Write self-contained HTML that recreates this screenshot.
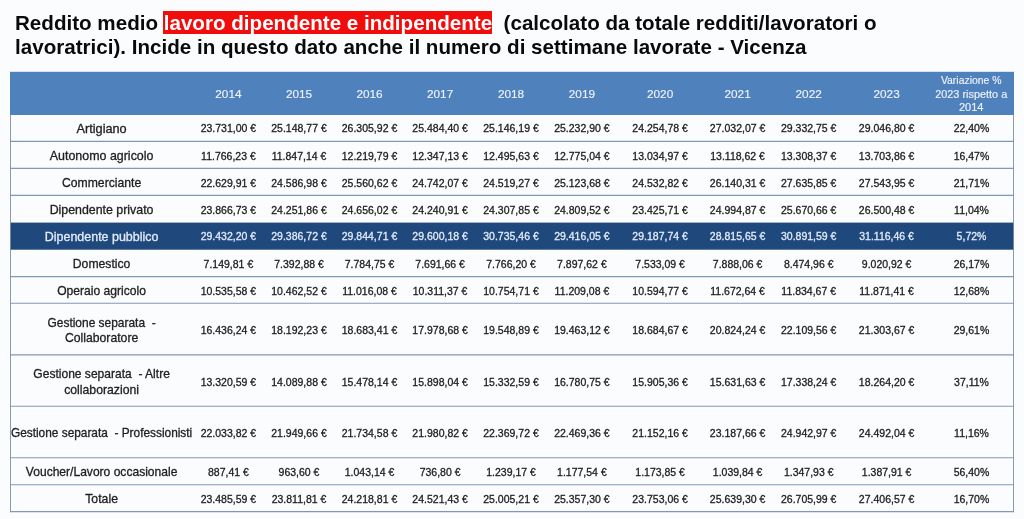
<!DOCTYPE html>
<html lang="it"><head><meta charset="utf-8"><title>Reddito medio - Vicenza</title>
<style>
html,body{margin:0;padding:0}
body{width:1024px;height:519px;background:#fafcfe;position:relative;overflow:hidden;font-family:"Liberation Sans",sans-serif}
#title{position:absolute;left:15px;top:10.5px;width:1000px;font-weight:bold;font-size:20.6px;line-height:24px;color:#0a0a0a;white-space:nowrap}
#title .hl{background:#f20d0d;color:#fff;padding:0 0 0 0.8px;margin-left:-0.8px}
svg{position:absolute;left:0;top:0}
svg text{font-family:"Liberation Sans",sans-serif;text-anchor:middle}
.v{font-size:10.1px;fill:#1c1c1c;stroke:#1c1c1c;stroke-width:0.28px}
.l{font-size:12.2px;fill:#1e1e1e;stroke:#1e1e1e;stroke-width:0.3px}
.y{font-size:11.8px;fill:#eef3fa;stroke:#eef3fa;stroke-width:0.15px}
.h{font-size:10.2px;fill:#eef3fa;stroke:#eef3fa;stroke-width:0.15px}
.w{fill:#e3ecf8;stroke:#e3ecf8}
</style></head>
<body>
<div id="title">Reddito medio <span class="hl">lavoro dipendente e indipendente</span>&nbsp; (calcolato da totale redditi/lavoratori o<br>lavoratrici). Incide in questo dato anche il numero di settimane lavorate - Vicenza</div>
<svg width="1024" height="519" viewBox="0 0 1024 519">
<rect x="10.00" y="71.80" width="1004.00" height="43.20" fill="#4f81bd"/>
<rect x="10.00" y="222.60" width="1004.00" height="27.10" fill="#1f497d"/>
<line x1="10.00" y1="141.40" x2="1014.00" y2="141.40" stroke="#7f97b8" stroke-width="1.1"/>
<line x1="10.00" y1="168.35" x2="1014.00" y2="168.35" stroke="#7f97b8" stroke-width="1.1"/>
<line x1="10.00" y1="195.40" x2="1014.00" y2="195.40" stroke="#7f97b8" stroke-width="1.1"/>
<line x1="10.00" y1="276.60" x2="1014.00" y2="276.60" stroke="#7f97b8" stroke-width="1.1"/>
<line x1="10.00" y1="303.30" x2="1014.00" y2="303.30" stroke="#7f97b8" stroke-width="1.1"/>
<line x1="10.00" y1="354.90" x2="1014.00" y2="354.90" stroke="#7f97b8" stroke-width="1.1"/>
<line x1="10.00" y1="406.30" x2="1014.00" y2="406.30" stroke="#7f97b8" stroke-width="1.1"/>
<line x1="10.00" y1="457.75" x2="1014.00" y2="457.75" stroke="#7f97b8" stroke-width="1.1"/>
<line x1="10.00" y1="484.80" x2="1014.00" y2="484.80" stroke="#7f97b8" stroke-width="1.1"/>
<line x1="10.00" y1="511.60" x2="1014.00" y2="511.60" stroke="#7f97b8" stroke-width="1.1"/>
<line x1="10.50" y1="115.00" x2="10.50" y2="512.10" stroke="#7f8fa6" stroke-width="0.9"/>
<line x1="1013.50" y1="115.00" x2="1013.50" y2="512.10" stroke="#7f8fa6" stroke-width="0.9"/>
<text class="y" x="228.40" y="97.90">2014</text>
<text class="y" x="299.00" y="97.90">2015</text>
<text class="y" x="369.50" y="97.90">2016</text>
<text class="y" x="440.10" y="97.90">2017</text>
<text class="y" x="511.00" y="97.90">2018</text>
<text class="y" x="581.90" y="97.90">2019</text>
<text class="y" x="660.10" y="97.90">2020</text>
<text class="y" x="737.60" y="97.90">2021</text>
<text class="y" x="808.70" y="97.90">2022</text>
<text class="y" x="886.60" y="97.90">2023</text>
<text class="h" x="971.20" y="84.00" textLength="60.6" lengthAdjust="spacingAndGlyphs">Variazione %</text>
<text class="h" x="971.20" y="97.55" textLength="72.0" lengthAdjust="spacingAndGlyphs">2023 rispetto a</text>
<text class="h" x="971.20" y="111.10" textLength="24.5" lengthAdjust="spacingAndGlyphs">2014</text>
<text class="l" x="101.60" y="132.90" textLength="50.2" lengthAdjust="spacingAndGlyphs">Artigiano</text>
<text class="v" transform="translate(228.40 132.20) scale(1.040 1)">23.731,00 €</text>
<text class="v" transform="translate(299.00 132.20) scale(1.040 1)">25.148,77 €</text>
<text class="v" transform="translate(369.50 132.20) scale(1.040 1)">26.305,92 €</text>
<text class="v" transform="translate(440.10 132.20) scale(1.040 1)">25.484,40 €</text>
<text class="v" transform="translate(511.00 132.20) scale(1.040 1)">25.146,19 €</text>
<text class="v" transform="translate(581.90 132.20) scale(1.040 1)">25.232,90 €</text>
<text class="v" transform="translate(660.10 132.20) scale(1.040 1)">24.254,78 €</text>
<text class="v" transform="translate(737.60 132.20) scale(1.040 1)">27.032,07 €</text>
<text class="v" transform="translate(808.70 132.20) scale(1.040 1)">29.332,75 €</text>
<text class="v" transform="translate(886.60 132.20) scale(1.040 1)">29.046,80 €</text>
<text class="v" transform="translate(971.50 132.20) scale(1.040 1)">22,40%</text>
<text class="l" x="101.60" y="159.57" textLength="103.7" lengthAdjust="spacingAndGlyphs">Autonomo agricolo</text>
<text class="v" transform="translate(228.40 160.18) scale(1.040 1)">11.766,23 €</text>
<text class="v" transform="translate(299.00 160.18) scale(1.040 1)">11.847,14 €</text>
<text class="v" transform="translate(369.50 160.18) scale(1.040 1)">12.219,79 €</text>
<text class="v" transform="translate(440.10 160.18) scale(1.040 1)">12.347,13 €</text>
<text class="v" transform="translate(511.00 160.18) scale(1.040 1)">12.495,63 €</text>
<text class="v" transform="translate(581.90 160.18) scale(1.040 1)">12.775,04 €</text>
<text class="v" transform="translate(660.10 160.18) scale(1.040 1)">13.034,97 €</text>
<text class="v" transform="translate(737.60 160.18) scale(1.040 1)">13.118,62 €</text>
<text class="v" transform="translate(808.70 160.18) scale(1.040 1)">13.308,37 €</text>
<text class="v" transform="translate(886.60 160.18) scale(1.040 1)">13.703,86 €</text>
<text class="v" transform="translate(971.50 160.18) scale(1.040 1)">16,47%</text>
<text class="l" x="101.60" y="186.57" textLength="79.3" lengthAdjust="spacingAndGlyphs">Commerciante</text>
<text class="v" transform="translate(228.40 187.07) scale(1.040 1)">22.629,91 €</text>
<text class="v" transform="translate(299.00 187.07) scale(1.040 1)">24.586,98 €</text>
<text class="v" transform="translate(369.50 187.07) scale(1.040 1)">25.560,62 €</text>
<text class="v" transform="translate(440.10 187.07) scale(1.040 1)">24.742,07 €</text>
<text class="v" transform="translate(511.00 187.07) scale(1.040 1)">24.519,27 €</text>
<text class="v" transform="translate(581.90 187.07) scale(1.040 1)">25.123,68 €</text>
<text class="v" transform="translate(660.10 187.07) scale(1.040 1)">24.532,82 €</text>
<text class="v" transform="translate(737.60 187.07) scale(1.040 1)">26.140,31 €</text>
<text class="v" transform="translate(808.70 187.07) scale(1.040 1)">27.635,85 €</text>
<text class="v" transform="translate(886.60 187.07) scale(1.040 1)">27.543,95 €</text>
<text class="v" transform="translate(971.50 187.07) scale(1.040 1)">21,71%</text>
<text class="l" x="101.60" y="213.70" textLength="103.8" lengthAdjust="spacingAndGlyphs">Dipendente privato</text>
<text class="v" transform="translate(228.40 214.30) scale(1.040 1)">23.866,73 €</text>
<text class="v" transform="translate(299.00 214.30) scale(1.040 1)">24.251,86 €</text>
<text class="v" transform="translate(369.50 214.30) scale(1.040 1)">24.656,02 €</text>
<text class="v" transform="translate(440.10 214.30) scale(1.040 1)">24.240,91 €</text>
<text class="v" transform="translate(511.00 214.30) scale(1.040 1)">24.307,85 €</text>
<text class="v" transform="translate(581.90 214.30) scale(1.040 1)">24.809,52 €</text>
<text class="v" transform="translate(660.10 214.30) scale(1.040 1)">23.425,71 €</text>
<text class="v" transform="translate(737.60 214.30) scale(1.040 1)">24.994,87 €</text>
<text class="v" transform="translate(808.70 214.30) scale(1.040 1)">25.670,66 €</text>
<text class="v" transform="translate(886.60 214.30) scale(1.040 1)">26.500,48 €</text>
<text class="v" transform="translate(971.50 214.30) scale(1.040 1)">11,04%</text>
<text class="l w" x="101.60" y="240.85" textLength="113.5" lengthAdjust="spacingAndGlyphs">Dipendente pubblico</text>
<text class="v w" transform="translate(228.40 240.35) scale(1.040 1)">29.432,20 €</text>
<text class="v w" transform="translate(299.00 240.35) scale(1.040 1)">29.386,72 €</text>
<text class="v w" transform="translate(369.50 240.35) scale(1.040 1)">29.844,71 €</text>
<text class="v w" transform="translate(440.10 240.35) scale(1.040 1)">29.600,18 €</text>
<text class="v w" transform="translate(511.00 240.35) scale(1.040 1)">30.735,46 €</text>
<text class="v w" transform="translate(581.90 240.35) scale(1.040 1)">29.416,05 €</text>
<text class="v w" transform="translate(660.10 240.35) scale(1.040 1)">29.187,74 €</text>
<text class="v w" transform="translate(737.60 240.35) scale(1.040 1)">28.815,65 €</text>
<text class="v w" transform="translate(808.70 240.35) scale(1.040 1)">30.891,59 €</text>
<text class="v w" transform="translate(886.60 240.35) scale(1.040 1)">31.116,46 €</text>
<text class="v w" transform="translate(971.50 240.35) scale(1.040 1)">5,72%</text>
<text class="l" x="101.60" y="267.85" textLength="57.6" lengthAdjust="spacingAndGlyphs">Domestico</text>
<text class="v" transform="translate(228.40 267.55) scale(1.040 1)">7.149,81 €</text>
<text class="v" transform="translate(299.00 267.55) scale(1.040 1)">7.392,88 €</text>
<text class="v" transform="translate(369.50 267.55) scale(1.040 1)">7.784,75 €</text>
<text class="v" transform="translate(440.10 267.55) scale(1.040 1)">7.691,66 €</text>
<text class="v" transform="translate(511.00 267.55) scale(1.040 1)">7.766,20 €</text>
<text class="v" transform="translate(581.90 267.55) scale(1.040 1)">7.897,62 €</text>
<text class="v" transform="translate(660.10 267.55) scale(1.040 1)">7.533,09 €</text>
<text class="v" transform="translate(737.60 267.55) scale(1.040 1)">7.888,06 €</text>
<text class="v" transform="translate(808.70 267.55) scale(1.040 1)">8.474,96 €</text>
<text class="v" transform="translate(886.60 267.55) scale(1.040 1)">9.020,92 €</text>
<text class="v" transform="translate(971.50 267.55) scale(1.040 1)">26,17%</text>
<text class="l" x="101.60" y="294.65" textLength="88.8" lengthAdjust="spacingAndGlyphs">Operaio agricolo</text>
<text class="v" transform="translate(228.40 295.15) scale(1.040 1)">10.535,58 €</text>
<text class="v" transform="translate(299.00 295.15) scale(1.040 1)">10.462,52 €</text>
<text class="v" transform="translate(369.50 295.15) scale(1.040 1)">11.016,08 €</text>
<text class="v" transform="translate(440.10 295.15) scale(1.040 1)">10.311,37 €</text>
<text class="v" transform="translate(511.00 295.15) scale(1.040 1)">10.754,71 €</text>
<text class="v" transform="translate(581.90 295.15) scale(1.040 1)">11.209,08 €</text>
<text class="v" transform="translate(660.10 295.15) scale(1.040 1)">10.594,77 €</text>
<text class="v" transform="translate(737.60 295.15) scale(1.040 1)">11.672,64 €</text>
<text class="v" transform="translate(808.70 295.15) scale(1.040 1)">11.834,67 €</text>
<text class="v" transform="translate(886.60 295.15) scale(1.040 1)">11.871,41 €</text>
<text class="v" transform="translate(971.50 295.15) scale(1.040 1)">12,68%</text>
<text class="l" x="101.60" y="326.80" textLength="108.2" lengthAdjust="spacingAndGlyphs">Gestione separata  -</text>
<text class="l" x="101.60" y="342.10" textLength="73.3" lengthAdjust="spacingAndGlyphs">Collaboratore</text>
<text class="v" transform="translate(228.40 333.90) scale(1.040 1)">16.436,24 €</text>
<text class="v" transform="translate(299.00 333.90) scale(1.040 1)">18.192,23 €</text>
<text class="v" transform="translate(369.50 333.90) scale(1.040 1)">18.683,41 €</text>
<text class="v" transform="translate(440.10 333.90) scale(1.040 1)">17.978,68 €</text>
<text class="v" transform="translate(511.00 333.90) scale(1.040 1)">19.548,89 €</text>
<text class="v" transform="translate(581.90 333.90) scale(1.040 1)">19.463,12 €</text>
<text class="v" transform="translate(660.10 333.90) scale(1.040 1)">18.684,67 €</text>
<text class="v" transform="translate(737.60 333.90) scale(1.040 1)">20.824,24 €</text>
<text class="v" transform="translate(808.70 333.90) scale(1.040 1)">22.109,56 €</text>
<text class="v" transform="translate(886.60 333.90) scale(1.040 1)">21.303,67 €</text>
<text class="v" transform="translate(971.50 333.90) scale(1.040 1)">29,61%</text>
<text class="l" x="101.60" y="378.30" textLength="136.5" lengthAdjust="spacingAndGlyphs">Gestione separata  - Altre</text>
<text class="l" x="101.60" y="393.60" textLength="74.9" lengthAdjust="spacingAndGlyphs">collaborazioni</text>
<text class="v" transform="translate(228.40 385.80) scale(1.040 1)">13.320,59 €</text>
<text class="v" transform="translate(299.00 385.80) scale(1.040 1)">14.089,88 €</text>
<text class="v" transform="translate(369.50 385.80) scale(1.040 1)">15.478,14 €</text>
<text class="v" transform="translate(440.10 385.80) scale(1.040 1)">15.898,04 €</text>
<text class="v" transform="translate(511.00 385.80) scale(1.040 1)">15.332,59 €</text>
<text class="v" transform="translate(581.90 385.80) scale(1.040 1)">16.780,75 €</text>
<text class="v" transform="translate(660.10 385.80) scale(1.040 1)">15.905,36 €</text>
<text class="v" transform="translate(737.60 385.80) scale(1.040 1)">15.631,63 €</text>
<text class="v" transform="translate(808.70 385.80) scale(1.040 1)">17.338,24 €</text>
<text class="v" transform="translate(886.60 385.80) scale(1.040 1)">18.264,20 €</text>
<text class="v" transform="translate(971.50 385.80) scale(1.040 1)">37,11%</text>
<text class="l" x="101.60" y="436.72" textLength="181.3" lengthAdjust="spacingAndGlyphs">Gestione separata  - Professionisti</text>
<text class="v" transform="translate(228.40 437.32) scale(1.040 1)">22.033,82 €</text>
<text class="v" transform="translate(299.00 437.32) scale(1.040 1)">21.949,66 €</text>
<text class="v" transform="translate(369.50 437.32) scale(1.040 1)">21.734,58 €</text>
<text class="v" transform="translate(440.10 437.32) scale(1.040 1)">21.980,82 €</text>
<text class="v" transform="translate(511.00 437.32) scale(1.040 1)">22.369,72 €</text>
<text class="v" transform="translate(581.90 437.32) scale(1.040 1)">22.469,36 €</text>
<text class="v" transform="translate(660.10 437.32) scale(1.040 1)">21.152,16 €</text>
<text class="v" transform="translate(737.60 437.32) scale(1.040 1)">23.187,66 €</text>
<text class="v" transform="translate(808.70 437.32) scale(1.040 1)">24.942,97 €</text>
<text class="v" transform="translate(886.60 437.32) scale(1.040 1)">24.492,04 €</text>
<text class="v" transform="translate(971.50 437.32) scale(1.040 1)">11,16%</text>
<text class="l" x="101.60" y="475.97" textLength="151.5" lengthAdjust="spacingAndGlyphs">Voucher/Lavoro occasionale</text>
<text class="v" transform="translate(228.40 476.17) scale(1.040 1)">887,41 €</text>
<text class="v" transform="translate(299.00 476.17) scale(1.040 1)">963,60 €</text>
<text class="v" transform="translate(369.50 476.17) scale(1.040 1)">1.043,14 €</text>
<text class="v" transform="translate(440.10 476.17) scale(1.040 1)">736,80 €</text>
<text class="v" transform="translate(511.00 476.17) scale(1.040 1)">1.239,17 €</text>
<text class="v" transform="translate(581.90 476.17) scale(1.040 1)">1.177,54 €</text>
<text class="v" transform="translate(660.10 476.17) scale(1.040 1)">1.173,85 €</text>
<text class="v" transform="translate(737.60 476.17) scale(1.040 1)">1.039,84 €</text>
<text class="v" transform="translate(808.70 476.17) scale(1.040 1)">1.347,93 €</text>
<text class="v" transform="translate(886.60 476.17) scale(1.040 1)">1.387,91 €</text>
<text class="v" transform="translate(971.50 476.17) scale(1.040 1)">56,40%</text>
<text class="l" x="101.60" y="502.90" textLength="32.7" lengthAdjust="spacingAndGlyphs">Totale</text>
<text class="v" transform="translate(228.40 503.10) scale(1.040 1)">23.485,59 €</text>
<text class="v" transform="translate(299.00 503.10) scale(1.040 1)">23.811,81 €</text>
<text class="v" transform="translate(369.50 503.10) scale(1.040 1)">24.218,81 €</text>
<text class="v" transform="translate(440.10 503.10) scale(1.040 1)">24.521,43 €</text>
<text class="v" transform="translate(511.00 503.10) scale(1.040 1)">25.005,21 €</text>
<text class="v" transform="translate(581.90 503.10) scale(1.040 1)">25.357,30 €</text>
<text class="v" transform="translate(660.10 503.10) scale(1.040 1)">23.753,06 €</text>
<text class="v" transform="translate(737.60 503.10) scale(1.040 1)">25.639,30 €</text>
<text class="v" transform="translate(808.70 503.10) scale(1.040 1)">26.705,99 €</text>
<text class="v" transform="translate(886.60 503.10) scale(1.040 1)">27.406,57 €</text>
<text class="v" transform="translate(971.50 503.10) scale(1.040 1)">16,70%</text>
</svg>
</body></html>
